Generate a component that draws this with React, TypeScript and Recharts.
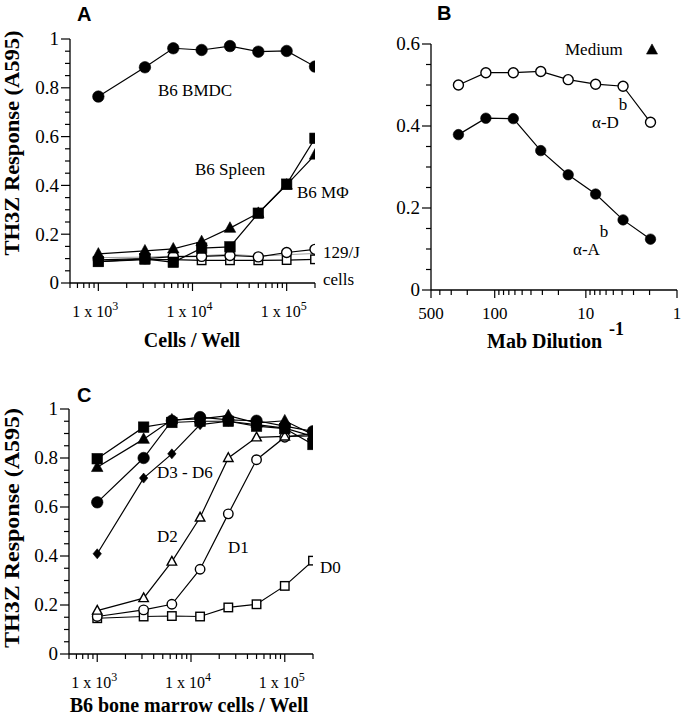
import React from 'react';
import { LineChart, Line, XAxis, YAxis, ReferenceLine } from 'recharts';

// ---------------- Data ----------------
const cellsPerWell = [1000, 3125, 6250, 12500, 25000, 50000, 100000, 200000];

// Panel A
const aB6Bmdc = [0.764, 0.884, 0.962, 0.955, 0.971, 0.948, 0.951, 0.887];
const aB6Spleen = [0.119, 0.132, 0.14, 0.17, 0.225, 0.286, 0.402, 0.525];
const aB6Mphi = [0.088, 0.099, 0.085, 0.143, 0.148, 0.286, 0.405, 0.593];
const a129jOpenCircle = [0.095, 0.1, 0.108, 0.109, 0.113, 0.107, 0.125, 0.138];
const a129jOpenSquare = [0.088, 0.096, 0.096, 0.093, 0.093, 0.093, 0.094, 0.097];
const a129jThin = [0.104, 0.106, 0.11, 0.112, 0.118, 0.11, 0.116, 0.121];

// Panel B
const mabDilution = [250, 125, 62.5, 31.25, 15.625, 7.8125, 3.90625, 1.953125];
const bAlphaDb = [0.5, 0.53, 0.53, 0.533, 0.513, 0.502, 0.497, 0.409];
const bAlphaAb = [0.379, 0.419, 0.418, 0.34, 0.281, 0.234, 0.171, 0.124];

// Panel C (days of culture)
const cD3Square = [0.797, 0.926, 0.945, 0.95, 0.95, 0.93, 0.92, 0.855];
const cD4Triangle = [0.762, 0.877, 0.956, 0.96, 0.973, 0.943, 0.952, 0.895];
const cD5Circle = [0.619, 0.8, 0.952, 0.967, 0.956, 0.952, 0.93, 0.909];
const cD6Diamond = [0.409, 0.718, 0.817, 0.936, 0.95, 0.936, 0.922, 0.888];
const cD2 = [0.177, 0.228, 0.377, 0.557, 0.8, 0.884, 0.888, 0.89];
const cD1 = [0.153, 0.18, 0.203, 0.346, 0.572, 0.793, 0.885, 0.9];
const cD0 = [0.146, 0.153, 0.155, 0.153, 0.19, 0.203, 0.278, 0.381];

// Ticks
const cellTicks = [500, 600, 700, 800, 900, 1000, 2000, 3000, 4000, 5000, 6000, 7000, 8000, 9000,
  10000, 20000, 30000, 40000, 50000, 60000, 70000, 80000, 90000, 100000, 200000];
const cellMajorTicks = [1000, 10000, 100000];
const cellTickExponents = ['3', '4', '5'];
const dilutionTicks = [500, 400, 300, 200, 100, 90, 80, 70, 60, 50, 40, 30, 20, 10, 9, 8, 7, 6, 5, 4, 3, 2, 1];
const dilutionLabels = [500, 100, 10, 1];
const responseTicks = [0, 0.05, 0.1, 0.15, 0.2, 0.25, 0.3, 0.35, 0.4, 0.45, 0.5, 0.55, 0.6, 0.65, 0.7,
  0.75, 0.8, 0.85, 0.9, 0.95, 1];
const responseTicksB = [0, 0.05, 0.1, 0.15, 0.2, 0.25, 0.3, 0.35, 0.4, 0.45, 0.5, 0.55, 0.6];

// ---------------- Tables ----------------
const dataA = cellsPerWell.map((x, i) => ({
  x,
  bmdc: aB6Bmdc[i],
  spleen: aB6Spleen[i],
  mphi: aB6Mphi[i],
  j129c: a129jOpenCircle[i],
  j129s: a129jOpenSquare[i],
  j129t: a129jThin[i],
}));
const dataB = mabDilution.map((x, i) => ({ x, db: bAlphaDb[i], ab: bAlphaAb[i] }));
const dataC = cellsPerWell.map((x, i) => ({
  x,
  d3: cD3Square[i],
  d4: cD4Triangle[i],
  d5: cD5Circle[i],
  d6: cD6Diamond[i],
  d2: cD2[i],
  d1: cD1[i],
  d0: cD0[i],
}));

// ---------------- Layout ----------------
const LAYOUT_A = { w: 370, h: 360, top: 39, right: 55, yW: 70, xH: 77 };
const LAYOUT_B = { w: 311, h: 360, top: 44, right: 4, yW: 61, xH: 70 };
const LAYOUT_C = { w: 370, h: 360, top: 49, right: 57, yW: 69, xH: 66 };
const plotW = (l: typeof LAYOUT_A) => l.w - l.yW - l.right;
const plotH = (l: typeof LAYOUT_A) => l.h - l.top - l.xH;

// ---------------- Styling helpers ----------------
const SERIF = '"Liberation Serif", "Times New Roman", serif';
const SANS = '"Liberation Sans", Arial, sans-serif';
const AXIS = { stroke: '#000', strokeWidth: 1.3 };
const MAJOR_LEN = 8;
const MINOR_LEN = 5;

type Shape = 'circle' | 'square' | 'triangle' | 'diamond';

function markerEl(cx: number, cy: number, shape: Shape, size: number, filled: boolean, key?: string) {
  const fill = filled ? '#000' : '#fff';
  const sw = filled ? 0.6 : 1.4;
  const s = size;
  if (shape === 'circle') return <circle key={key} cx={cx} cy={cy} r={s / 2} fill={fill} stroke="#000" strokeWidth={sw} />;
  if (shape === 'square')
    return <rect key={key} x={cx - s / 2} y={cy - s / 2} width={s} height={s} fill={fill} stroke="#000" strokeWidth={sw} />;
  if (shape === 'triangle') {
    const h = s * 0.92;
    return (
      <polygon
        key={key}
        points={`${cx},${cy - h * 0.6} ${cx + s / 2},${cy + h * 0.4} ${cx - s / 2},${cy + h * 0.4}`}
        fill={fill}
        stroke="#000"
        strokeWidth={sw}
      />
    );
  }
  return (
    <polygon
      key={key}
      points={`${cx},${cy - s / 2} ${cx + s * 0.42},${cy} ${cx},${cy + s / 2} ${cx - s * 0.42},${cy}`}
      fill={fill}
      stroke="#000"
      strokeWidth={sw}
    />
  );
}

const makeDot = (shape: Shape, size: number, filled: boolean) => (p: any) => {
  if (p.cx == null || p.cy == null || isNaN(p.cx) || isNaN(p.cy)) return <g key={`${shape}-${filled}-${p.index}`} />;
  return markerEl(p.cx, p.cy, shape, size, filled, `${shape}-${filled}-${p.index}`);
};

const isMajorResponse = (v: number) => Math.abs(v * 5 - Math.round(v * 5)) < 1e-6;
const fmtResponse = (v: number) => (v === 0 ? '0' : Math.abs(v - 1) < 1e-9 ? '1' : v.toFixed(1));

// Tick labels (tickSize = 0, so x, y are on the axis line)
const makeResponseTick = () => (props: any) => {
  const { x, y, payload } = props;
  const v = payload.value as number;
  const major = isMajorResponse(v);
  return (
    <g>
      <text x={x - 11} y={y} dy="0.34em" textAnchor="end" fontFamily={SERIF} fontSize={19} fill="#000">
        {major ? fmtResponse(v) : ''}
      </text>
    </g>
  );
};

const makeCellTick = () => (props: any) => {
  const { x, y, payload } = props;
  const v = payload.value as number;
  const idx = cellMajorTicks.indexOf(v);
  const major = idx >= 0;
  return (
    <g>
      <text x={x - 3} y={y + 34} textAnchor="middle" fontFamily={SERIF} fontSize={16} fill="#000">
        {major ? '1 x 10' : ''}
        {major && (
          <tspan dy={-7} fontSize={12}>
            {cellTickExponents[idx]}
          </tspan>
        )}
      </text>
    </g>
  );
};

const makeDilutionTick = () => (props: any) => {
  const { x, y, payload } = props;
  const v = payload.value as number;
  const major = dilutionLabels.indexOf(v) >= 0;
  return (
    <g>
      <text x={x} y={y + 29} textAnchor="middle" fontFamily={SERIF} fontSize={17} fill="#000">
        {major ? String(v) : ''}
      </text>
    </g>
  );
};

// Tick marks drawn through the chart's own scales (ReferenceLine segments outside the plot)
function xTickMarks(prefix: string, ticks: number[], majors: number[], y0: number, unitsPerPx: number) {
  return ticks.map((t) => {
    const len = majors.indexOf(t) >= 0 ? MAJOR_LEN : MINOR_LEN;
    return (
      <ReferenceLine
        key={`${prefix}-xt-${t}`}
        segment={[
          { x: t, y: y0 },
          { x: t, y: y0 - len * unitsPerPx },
        ]}
        stroke="#000"
        strokeWidth={1.2}
        ifOverflow="visible"
      />
    );
  });
}

function yTickMarks(prefix: string, ticks: number[], xEdge: number, decadesPerPx: number, dir: number) {
  return ticks.map((v) => {
    const len = isMajorResponse(v) ? 9 : MINOR_LEN;
    const xOut = xEdge * Math.pow(10, dir * len * decadesPerPx);
    return (
      <ReferenceLine
        key={`${prefix}-yt-${v}`}
        segment={[
          { x: xEdge, y: v },
          { x: xOut, y: v },
        ]}
        stroke="#000"
        strokeWidth={1.2}
        ifOverflow="visible"
      />
    );
  });
}

const lineProps = { stroke: '#000', strokeWidth: 1.2, isAnimationActive: false };

const cellDecades = Math.log10(200000 / 500);
const dilDecades = Math.log10(500 / 1);

export default function App() {
  return (
    <div style={{ position: 'absolute', left: 0, top: 0, width: 681, height: 720, background: '#fff' }}>
      {/* Text layer (beneath the transparent chart SVGs) */}
      <svg width={681} height={720} style={{ position: 'absolute', left: 0, top: 0 }}>
        <g fontFamily={SANS} fontWeight="bold" fontSize={20} fill="#000">
          <text x={77} y={21}>A</text>
          <text x={437} y={20}>B</text>
          <text x={77} y={402}>C</text>
        </g>
        <g fontFamily={SERIF} fontWeight="bold" fontSize={20} fill="#000">
          <text transform="translate(19,143) rotate(-90)" textAnchor="middle" textLength={225} lengthAdjust="spacingAndGlyphs">
            TH3Z Response (A595)
          </text>
          <text transform="translate(19,528) rotate(-90)" textAnchor="middle" textLength={240} lengthAdjust="spacingAndGlyphs">
            TH3Z Response (A595)
          </text>
          <text x={192} y={347} textAnchor="middle">Cells / Well</text>
          <text x={487} y={348}>
            Mab Dilution
            <tspan dx={7} dy={-13} fontSize={18}>-1</tspan>
          </text>
          <text x={189} y={712} textAnchor="middle">B6 bone marrow cells / Well</text>
        </g>
        <g fontFamily={SERIF} fontSize={17} fill="#000">
          <text x={158} y={96}>B6 BMDC</text>
          <text x={195} y={175}>B6 Spleen</text>
          <text x={297} y={198}>B6 MΦ</text>
          <text x={323} y={258}>129/J</text>
          <text x={323} y={285}>cells</text>

          <text x={565} y={55}>Medium</text>
          <text x={592} y={128}>
            α-D<tspan dy={-18}>b</tspan>
          </text>
          <text x={573} y={255}>
            α-A<tspan dy={-18}>b</tspan>
          </text>

          <text x={157} y={478}>D3 - D6</text>
          <text x={157} y={542}>D2</text>
          <text x={228} y={553}>D1</text>
          <text x={320} y={573}>D0</text>
        </g>
        {markerEl(652, 50, 'triangle', 11, true)}
      </svg>

      {/* Panel A */}
      <div style={{ position: 'absolute', left: 0, top: 0 }}>
        <LineChart
          width={LAYOUT_A.w}
          height={LAYOUT_A.h}
          data={dataA}
          margin={{ top: LAYOUT_A.top, right: LAYOUT_A.right, bottom: 0, left: 0 }}
        >
          <XAxis
            dataKey="x"
            type="number"
            scale="log"
            domain={[500, 200000]}
            allowDataOverflow
            ticks={cellTicks}
            tick={makeCellTick()}
            tickLine={false}
            tickSize={0}
            tickMargin={0}
            interval={0}
            height={LAYOUT_A.xH}
            axisLine={AXIS}
          />
          <YAxis
            type="number"
            domain={[0, 1]}
            allowDataOverflow
            ticks={responseTicks}
            tick={makeResponseTick()}
            tickLine={false}
            tickSize={0}
            tickMargin={0}
            interval={0}
            width={LAYOUT_A.yW}
            axisLine={AXIS}
          />
          {xTickMarks('a', cellTicks, cellMajorTicks, 0, 1 / plotH(LAYOUT_A))}
          {yTickMarks('a', responseTicks, 500, cellDecades / plotW(LAYOUT_A), -1)}
          <Line dataKey="j129t" stroke="#888" strokeWidth={0.8} isAnimationActive={false} dot={false} />
          <Line dataKey="j129s" {...lineProps} dot={makeDot('square', 8.5, false)} />
          <Line dataKey="j129c" {...lineProps} dot={makeDot('circle', 10, false)} />
          <Line dataKey="mphi" {...lineProps} dot={makeDot('square', 10.5, true)} />
          <Line dataKey="spleen" {...lineProps} dot={makeDot('triangle', 11.5, true)} />
          <Line dataKey="bmdc" {...lineProps} dot={makeDot('circle', 11.5, true)} />
        </LineChart>
      </div>

      {/* Panel B */}
      <div style={{ position: 'absolute', left: 370, top: 0 }}>
        <LineChart
          width={LAYOUT_B.w}
          height={LAYOUT_B.h}
          data={dataB}
          margin={{ top: LAYOUT_B.top, right: LAYOUT_B.right, bottom: 0, left: 0 }}
        >
          <XAxis
            dataKey="x"
            type="number"
            scale="log"
            domain={[1, 500]}
            reversed
            allowDataOverflow
            ticks={dilutionTicks}
            tick={makeDilutionTick()}
            tickLine={false}
            tickSize={0}
            tickMargin={0}
            interval={0}
            height={LAYOUT_B.xH}
            axisLine={AXIS}
          />
          <YAxis
            type="number"
            domain={[0, 0.6]}
            allowDataOverflow
            ticks={responseTicksB}
            tick={makeResponseTick()}
            tickLine={false}
            tickSize={0}
            tickMargin={0}
            interval={0}
            width={LAYOUT_B.yW}
            axisLine={AXIS}
          />
          {xTickMarks('b', dilutionTicks, dilutionLabels, 0, 0.6 / plotH(LAYOUT_B))}
          {yTickMarks('b', responseTicksB, 500, dilDecades / plotW(LAYOUT_B), 1)}
          <Line dataKey="ab" {...lineProps} dot={makeDot('circle', 10.5, true)} />
          <Line dataKey="db" {...lineProps} dot={makeDot('circle', 10, false)} />
        </LineChart>
      </div>

      {/* Panel C */}
      <div style={{ position: 'absolute', left: 0, top: 360 }}>
        <LineChart
          width={LAYOUT_C.w}
          height={LAYOUT_C.h}
          data={dataC}
          margin={{ top: LAYOUT_C.top, right: LAYOUT_C.right, bottom: 0, left: 0 }}
        >
          <XAxis
            dataKey="x"
            type="number"
            scale="log"
            domain={[500, 200000]}
            allowDataOverflow
            ticks={cellTicks}
            tick={makeCellTick()}
            tickLine={false}
            tickSize={0}
            tickMargin={0}
            interval={0}
            height={LAYOUT_C.xH}
            axisLine={AXIS}
          />
          <YAxis
            type="number"
            domain={[0, 1]}
            allowDataOverflow
            ticks={responseTicks}
            tick={makeResponseTick()}
            tickLine={false}
            tickSize={0}
            tickMargin={0}
            interval={0}
            width={LAYOUT_C.yW}
            axisLine={AXIS}
          />
          {xTickMarks('c', cellTicks, cellMajorTicks, 0, 1 / plotH(LAYOUT_C))}
          {yTickMarks('c', responseTicks, 500, cellDecades / plotW(LAYOUT_C), -1)}
          <Line dataKey="d0" {...lineProps} dot={makeDot('square', 8.5, false)} />
          <Line dataKey="d1" {...lineProps} dot={makeDot('circle', 9.5, false)} />
          <Line dataKey="d2" {...lineProps} dot={makeDot('triangle', 9.5, false)} />
          <Line dataKey="d6" {...lineProps} dot={makeDot('diamond', 10, true)} />
          <Line dataKey="d5" {...lineProps} dot={makeDot('circle', 11.5, true)} />
          <Line dataKey="d4" {...lineProps} dot={makeDot('triangle', 11.5, true)} />
          <Line dataKey="d3" {...lineProps} dot={makeDot('square', 10.5, true)} />
        </LineChart>
      </div>
    </div>
  );
}
